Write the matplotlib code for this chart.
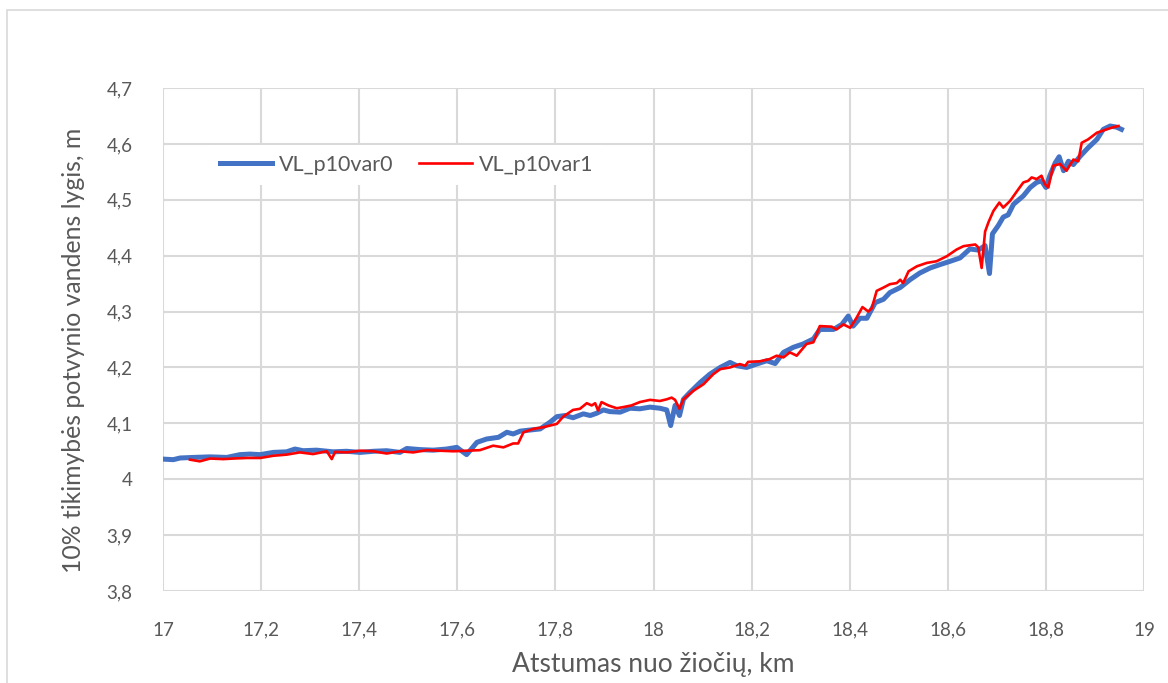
import matplotlib.pyplot as plt
import matplotlib.ticker as ticker
from matplotlib.patches import Rectangle

plt.rcParams["font.family"] = ["Lato", "DejaVu Sans"]

# variant 0: distance along the river (km) and 10% flood water level (m)
var0_km = [
    17.000, 17.021, 17.035, 17.062, 17.096, 17.130, 17.157, 17.177, 17.198,
    17.225, 17.252, 17.269, 17.286, 17.313, 17.347, 17.374, 17.402, 17.429,
    17.456, 17.483, 17.497, 17.524, 17.551, 17.578, 17.599, 17.619, 17.640,
    17.660, 17.684, 17.701, 17.714, 17.728, 17.748, 17.769, 17.789, 17.803,
    17.820, 17.836, 17.857, 17.871, 17.884, 17.898, 17.911, 17.932, 17.952,
    17.972, 17.993, 18.013, 18.027, 18.035, 18.044, 18.053, 18.061, 18.074,
    18.095, 18.115, 18.136, 18.156, 18.170, 18.190, 18.210, 18.231, 18.248,
    18.265, 18.285, 18.305, 18.326, 18.339, 18.367, 18.384, 18.397, 18.407,
    18.421, 18.435, 18.452, 18.469, 18.482, 18.503, 18.523, 18.543, 18.564,
    18.584, 18.605, 18.625, 18.645, 18.662, 18.676, 18.685, 18.691, 18.703,
    18.713, 18.723, 18.734, 18.754, 18.768, 18.781, 18.791, 18.800, 18.808,
    18.819, 18.827, 18.836, 18.846, 18.856, 18.870, 18.886, 18.904, 18.917,
    18.931, 18.944, 18.954,
]
var0_level = [
    4.036, 4.035, 4.038, 4.039, 4.040, 4.039, 4.044, 4.045, 4.044,
    4.048, 4.049, 4.054, 4.051, 4.052, 4.049, 4.050, 4.048, 4.050,
    4.051, 4.048, 4.055, 4.053, 4.052, 4.054, 4.057, 4.044, 4.066,
    4.072, 4.075, 4.084, 4.081, 4.086, 4.088, 4.090, 4.102, 4.112,
    4.114, 4.110, 4.117, 4.114, 4.118, 4.124, 4.121, 4.120, 4.127,
    4.126, 4.129, 4.127, 4.124, 4.096, 4.132, 4.114, 4.143, 4.155,
    4.173, 4.188, 4.200, 4.209, 4.203, 4.200, 4.206, 4.212, 4.207,
    4.227, 4.236, 4.242, 4.251, 4.268, 4.268, 4.277, 4.292, 4.274,
    4.288, 4.288, 4.316, 4.322, 4.334, 4.343, 4.357, 4.369, 4.378,
    4.384, 4.390, 4.396, 4.412, 4.410, 4.418, 4.368, 4.439, 4.454,
    4.469, 4.473, 4.492, 4.507, 4.522, 4.531, 4.534, 4.522, 4.543,
    4.566, 4.577, 4.552, 4.569, 4.563, 4.578, 4.593, 4.608, 4.626,
    4.632, 4.630, 4.626,
]

# variant 1
var1_km = [
    17.055, 17.075, 17.096, 17.123, 17.143, 17.171, 17.198, 17.225, 17.252,
    17.279, 17.306, 17.334, 17.344, 17.351, 17.374, 17.402, 17.429, 17.456,
    17.483, 17.510, 17.538, 17.565, 17.592, 17.619, 17.646, 17.673, 17.694,
    17.714, 17.724, 17.735, 17.755, 17.775, 17.789, 17.803, 17.816, 17.836,
    17.850, 17.864, 17.874, 17.881, 17.887, 17.894, 17.908, 17.925, 17.938,
    17.955, 17.972, 17.993, 18.013, 18.027, 18.037, 18.044, 18.053, 18.061,
    18.081, 18.102, 18.122, 18.136, 18.156, 18.176, 18.187, 18.193, 18.217,
    18.237, 18.251, 18.265, 18.278, 18.292, 18.312, 18.326, 18.339, 18.363,
    18.373, 18.387, 18.401, 18.414, 18.426, 18.438, 18.445, 18.455, 18.469,
    18.482, 18.496, 18.503, 18.509, 18.520, 18.537, 18.557, 18.577, 18.598,
    18.618, 18.632, 18.656, 18.662, 18.669, 18.676, 18.683, 18.693, 18.705,
    18.713, 18.727, 18.744, 18.754, 18.764, 18.771, 18.781, 18.791, 18.798,
    18.805, 18.815, 18.829, 18.842, 18.856, 18.866, 18.873, 18.886, 18.904,
    18.924, 18.938, 18.948,
]
var1_level = [
    4.035, 4.032, 4.037, 4.036, 4.037, 4.038, 4.038, 4.042, 4.044,
    4.048, 4.045, 4.050, 4.036, 4.049, 4.048, 4.051, 4.050, 4.046,
    4.050, 4.048, 4.052, 4.051, 4.050, 4.051, 4.052, 4.060, 4.057,
    4.064, 4.064, 4.084, 4.090, 4.093, 4.096, 4.099, 4.112, 4.124,
    4.126, 4.136, 4.132, 4.136, 4.123, 4.138, 4.132, 4.127, 4.129,
    4.132, 4.138, 4.142, 4.140, 4.143, 4.146, 4.142, 4.126, 4.143,
    4.158, 4.170, 4.188, 4.197, 4.200, 4.206, 4.203, 4.210, 4.211,
    4.215, 4.221, 4.218, 4.227, 4.221, 4.242, 4.245, 4.274, 4.273,
    4.268, 4.277, 4.271, 4.289, 4.308, 4.300, 4.306, 4.337, 4.343,
    4.349, 4.351, 4.357, 4.351, 4.372, 4.381, 4.387, 4.390, 4.399,
    4.411, 4.417, 4.420, 4.415, 4.378, 4.443, 4.460, 4.480, 4.495,
    4.486, 4.498, 4.519, 4.531, 4.534, 4.540, 4.537, 4.543, 4.528,
    4.522, 4.561, 4.564, 4.552, 4.572, 4.569, 4.602, 4.608, 4.620,
    4.626, 4.630, 4.632,
]

x_ticks = [17, 17.2, 17.4, 17.6, 17.8, 18, 18.2, 18.4, 18.6, 18.8, 19]
y_ticks = [3.8, 3.9, 4.0, 4.1, 4.2, 4.3, 4.4, 4.5, 4.6, 4.7]

grey_text = "#595959"
grid_color = "#D9D9D9"


def comma_fmt(v, _):
    return f"{round(v, 2):g}".replace(".", ",")


fig = plt.figure(figsize=(11.68, 6.83), dpi=100)
ax = fig.add_axes([163 / 1168, 1 - 591 / 683, (1144 - 163) / 1168, (591 - 88) / 683])

# chart area outline
fig.patches.append(Rectangle((7 / 1168, -0.05), 1.1, 1 - 10 / 683 + 0.05,
                             transform=fig.transFigure, fill=False,
                             edgecolor=grid_color, linewidth=1.2, zorder=0))

ax.plot(var0_km, var0_level, color="#4472C4", lw=3.6, solid_joinstyle="round",
        label="VL_p10var0", zorder=3)
ax.plot(var1_km, var1_level, color="#FF0000", lw=1.9, solid_joinstyle="round",
        label="VL_p10var1", zorder=4)

ax.set_xlim(17, 19)
ax.set_ylim(3.8, 4.7)
ax.xaxis.set_major_locator(ticker.FixedLocator(x_ticks))
ax.yaxis.set_major_locator(ticker.FixedLocator(y_ticks))
ax.xaxis.set_major_formatter(ticker.FuncFormatter(comma_fmt))
ax.yaxis.set_major_formatter(ticker.FuncFormatter(comma_fmt))
ax.grid(True, color=grid_color, lw=1.5, zorder=0)
ax.set_axisbelow(True)
for s in ax.spines.values():
    s.set_visible(False)
ax.tick_params(length=0, labelsize=13.5, labelcolor=grey_text)
ax.tick_params(axis="x", pad=22)
ax.tick_params(axis="y", pad=22)

ax.set_xlabel("Atstumas nuo žiočių, km", fontsize=19, color=grey_text, labelpad=10)
ax.set_ylabel("10% tikimybės potvynio vandens lygis, m", fontsize=17.8,
              color=grey_text)
ax.yaxis.set_label_coords(-0.0795, 0.479)

leg = ax.legend(loc="center left", bbox_to_anchor=(0.037, 0.847), ncol=2,
                fontsize=15.5, frameon=True, facecolor="white",
                edgecolor="none", framealpha=1, fancybox=False,
                handlelength=2.45, handletextpad=0.3, columnspacing=1.2,
                borderpad=0.45)
for t in leg.get_texts():
    t.set_color(grey_text)

fig.savefig("out.png", dpi=100)
